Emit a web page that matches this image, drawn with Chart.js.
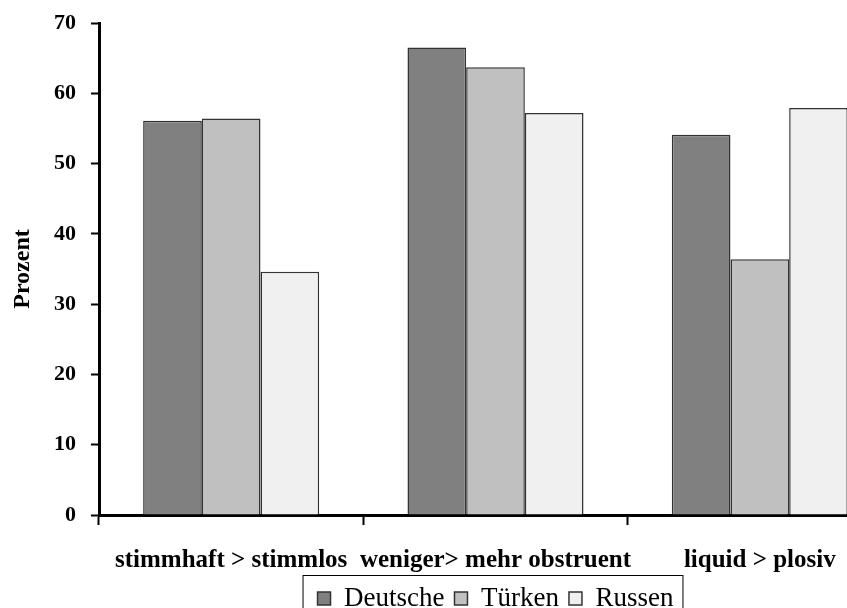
<!DOCTYPE html>
<html>
<head>
<meta charset="utf-8">
<script src="https://cdn.jsdelivr.net/npm/chart.js@4.4.1/dist/chart.umd.min.js"></script>
<style>
  html, body { margin: 0; padding: 0; background: #fff; overflow: hidden; }
  #wrap { width: 847px; height: 608px; overflow: hidden; position: relative; }
  canvas { position: absolute; left: 0; top: 0; }
</style>
</head>
<body>
<div id="wrap">
  <canvas id="chart" width="900" height="622"></canvas>
</div>
<script>
const categories = ["stimmhaft > stimmlos", "weniger> mehr obstruent", "liquid > plosiv"];
const seriesNames = ["Deutsche", "Türken", "Russen"];
const deutsche = [56.1, 66.5, 54.1];
const tuerken = [56.4, 63.7, 36.4];
const russen = [34.6, 57.2, 57.9];
const fills = ["#808080", "#c0c0c0", "#f0f0f0"];

const serif = "'Liberation Serif', 'Times New Roman', serif";

// draws a thin frame round the legend entries
const legendFrame = {
  id: "legendFrame",
  afterDraw(chart) {
    const lg = chart.legend;
    if (!lg || !lg.legendHitBoxes.length) return;
    const boxes = lg.legendHitBoxes;
    const left = Math.min(...boxes.map((b) => b.left)) - 15;
    const right = Math.max(...boxes.map((b) => b.left + b.width)) + 9;
    const ctx = chart.ctx;
    ctx.save();
    ctx.strokeStyle = "#000";
    ctx.lineWidth = 1;
    ctx.strokeRect(left + 0.5, lg.top + 0.5, right - left, lg.height + 20);
    ctx.restore();
  },
};

new Chart(document.getElementById("chart"), {
  type: "bar",
  data: {
    labels: categories,
    datasets: [deutsche, tuerken, russen].map((values, i) => ({
      label: seriesNames[i],
      data: values,
      backgroundColor: fills[i],
      borderColor: "#333",
      borderWidth: 1.5,
      categoryPercentage: 0.666,
      barPercentage: 1,
    })),
  },
  options: {
    responsive: false,
    animation: false,
    layout: { autoPadding: false, padding: { top: 23, right: 8, left: 0, bottom: 0 } },
    plugins: {
      tooltip: { enabled: false },
      legend: {
        position: "bottom",
        fullSize: false,
        labels: {
          color: "#000",
          boxWidth: 13,
          boxHeight: 13,
          padding: 10,
          font: { family: serif, size: 27 },
        },
      },
    },
    scales: {
      x: {
        afterFit: (s) => { s.height = 60; },
        border: { display: true, color: "#000", width: 3 },
        grid: {
          display: true,
          drawOnChartArea: false,
          offset: true,
          tickLength: 10,
          tickColor: "#000",
          tickWidth: 2,
        },
        ticks: {
          color: "#000",
          padding: 21,
          autoSkip: false,
          maxRotation: 0,
          font: { family: serif, size: 25, weight: "bold" },
        },
      },
      y: {
        min: 0,
        max: 70,
        afterFit: (s) => { s.width = 99; },
        border: { display: true, color: "#000", width: 3 },
        grid: {
          display: true,
          drawOnChartArea: false,
          tickLength: 8,
          tickColor: "#000",
          tickWidth: 2,
        },
        ticks: {
          stepSize: 10,
          color: "#000",
          padding: 15,
          font: { family: serif, size: 22, weight: "bold", lineHeight: 0.7 },
        },
        title: {
          display: true,
          text: "Prozent",
          color: "#000",
          padding: { top: 8, bottom: 0 },
          font: { family: serif, size: 24, weight: "bold" },
        },
      },
    },
  },
  plugins: [legendFrame],
});
</script>
</body>
</html>
